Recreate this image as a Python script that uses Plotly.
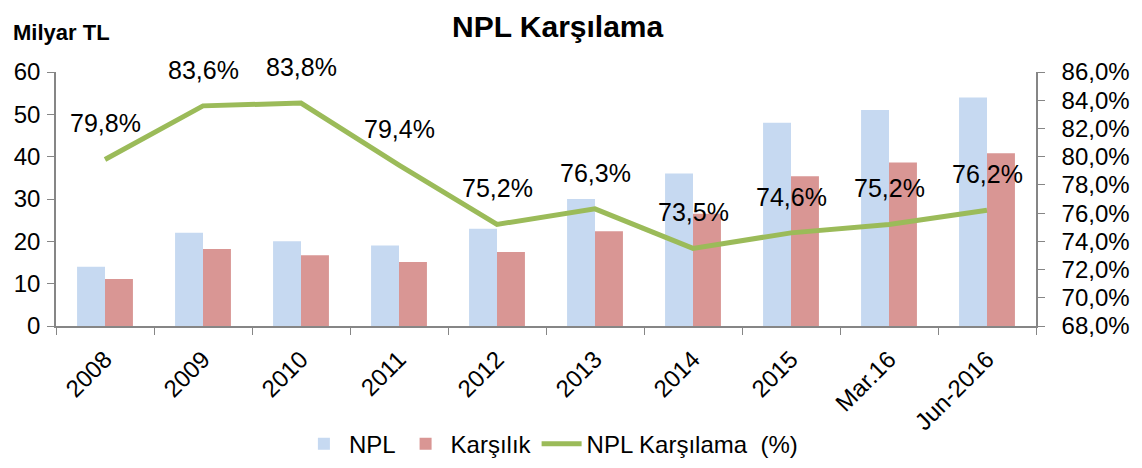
import plotly.graph_objects as go

categories = ["2008", "2009", "2010", "2011", "2012", "2013", "2014", "2015", "Mar.16", "Jun-2016"]
npl = [14, 22, 20, 19, 23, 30, 36, 48, 51, 54]
karsilik = [11.1, 18.2, 16.7, 15.1, 17.5, 22.4, 26.5, 35.4, 38.6, 40.8]
coverage = [79.8, 83.6, 83.8, 79.4, 75.2, 76.3, 73.5, 74.6, 75.2, 76.2]

FONT = "Arial, Liberation Sans, sans-serif"

fig = go.Figure()
fig.add_trace(go.Bar(x=categories, y=npl, name="NPL", marker_color="#C6D9F1",
                     marker_line_width=0))
fig.add_trace(go.Bar(x=categories, y=karsilik, name="Karşılık", marker_color="#D99694",
                     marker_line_width=0))
fig.add_trace(go.Scatter(x=categories, y=coverage, name="NPL Karşılama  (%)", mode="lines",
                         line=dict(color="#9BBB59", width=5), yaxis="y2"))

for i, v in enumerate(coverage):
    fig.add_annotation(x=i, y=v, yref="y2", xref="x", text=f"{v:.1f}%".replace(".", ","),
                       showarrow=False, yshift=36, font=dict(size=25, color="#000", family=FONT))

fig.add_annotation(text="<b>NPL Karşılama</b>", xref="paper", yref="paper", x=0.512, y=1.0,
                   yshift=63, xanchor="center", yanchor="top", showarrow=False,
                   borderpad=0, font=dict(size=30, color="#000", family=FONT))
fig.add_annotation(text="<b>Milyar TL</b>", xref="paper", yref="paper", x=-0.046, y=1.0,
                   yshift=40, xanchor="left", yanchor="middle", showarrow=False,
                   font=dict(size=22, color="#000", family=FONT))

axis_col = "#868686"
fig.update_layout(
    width=1134, height=460,
    margin=dict(l=48, r=106, t=64, b=142, autoexpand=False),
    paper_bgcolor="white", plot_bgcolor="white",
    separators=",.",
    font=dict(family=FONT, size=24, color="#000"),
    barmode="group", bargap=0.43, bargroupgap=0,
    showlegend=True,
    legend=dict(orientation="h", x=0.505, xanchor="center", y=-0.465, yanchor="middle",
                font=dict(size=24, family=FONT), itemwidth=40, tracegroupgap=0),
    xaxis=dict(type="category", range=[-0.5, len(categories) - 0.5], showline=True,
               linecolor=axis_col, linewidth=1.5, ticks="outside",
               tickson="boundaries", ticklen=7, tickcolor=axis_col, tickangle=-45,
               tickfont=dict(size=24), showgrid=False, automargin=False,
               ticklabelstandoff=8),
    yaxis=dict(range=[0, 60], dtick=10, showline=True, linecolor=axis_col, linewidth=1.5,
               ticks="outside", ticklen=7, tickcolor=axis_col, showgrid=False, zeroline=False,
               tickfont=dict(size=24), automargin=False, ticklabelstandoff=2),
    yaxis2=dict(range=[68, 86], dtick=2, overlaying="y", side="right", showline=True,
                linecolor=axis_col, linewidth=1.5, ticks="outside", ticklen=7, tickcolor=axis_col,
                showgrid=False, zeroline=False, tickformat=".1f", ticksuffix="%",
                tickfont=dict(size=24), automargin=False, ticklabelstandoff=12),
)

fig.write_html("out.html")
